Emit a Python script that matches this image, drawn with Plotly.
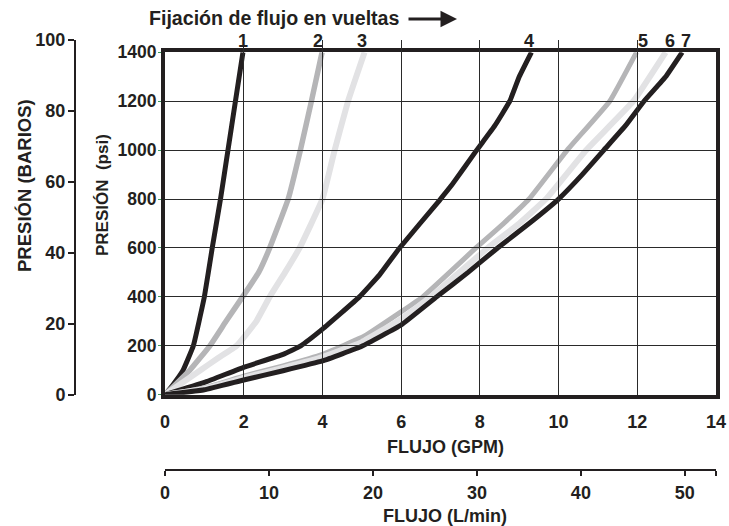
import plotly.graph_objects as go

# ---------------- data ----------------
turn_labels = ["1", "2", "3", "4", "5", "6", "7"]

c1_gpm = [0, 0.2, 0.46, 0.72, 1.0, 1.2, 1.41, 1.60, 1.79, 1.98]
c1_psi = [0, 40, 100, 200, 400, 600, 800, 1000, 1200, 1400]

c2_gpm = [0, 0.63, 1.14, 1.55, 1.97, 2.38, 2.66, 3.13, 3.44, 3.72, 3.99]
c2_psi = [0, 100, 200, 300, 400, 500, 600, 800, 1000, 1200, 1400]

c3_gpm = [0, 0.9, 1.35, 1.82, 2.32, 2.66, 3.05, 3.42, 4.0, 4.31, 4.65, 5.07]
c3_psi = [0, 100, 150, 200, 300, 400, 500, 600, 800, 1000, 1200, 1400]

c4_gpm = [0, 1.0, 2.0, 3.0, 3.45, 4.0, 4.94, 5.45, 5.96, 6.97, 7.28, 7.92, 8.38, 8.76, 9.0, 9.31]
c4_psi = [0, 50, 112, 165, 200, 268, 400, 490, 600, 794, 856, 1000, 1100, 1200, 1300, 1400]

c5_gpm = [0, 1, 2, 3, 4, 5.07, 6, 6.55, 7.9, 8.6, 9.25, 10.22, 11.3, 11.98]
c5_psi = [0, 28, 76, 118, 165, 240, 339, 400, 600, 700, 800, 1000, 1200, 1400]

c6_gpm = [0, 1, 2, 3, 4, 5, 6, 6.75, 8.2, 9.0, 9.68, 10.7, 11.9, 12.72]
c6_psi = [0, 24, 69, 110, 154, 215, 310, 400, 600, 700, 800, 1000, 1200, 1400]

c7_gpm = [0, 1, 2, 3, 4, 5.0, 6, 6.9, 7.7, 8.45, 9.25, 10.0, 10.6, 11.15, 11.7, 12.17, 12.72, 13.14]
c7_psi = [0, 20, 60, 98, 138, 198, 285, 400, 500, 600, 700, 800, 900, 1000, 1100, 1200, 1300, 1400]

gpm_ticks = [0, 2, 4, 6, 8, 10, 12, 14]
psi_ticks = [0, 200, 400, 600, 800, 1000, 1200, 1400]
bar_ticks = [0, 20, 40, 60, 80, 100]
lpm_ticks = [0, 10, 20, 30, 40, 50]

GPM_MAX = 14
PSI_MAX = 1400
BAR_MAX = 100
PSI_PER_BAR = 14.5038
LPM_PER_GPM = 3.78541

# ---------------- layout geometry ----------------
W, H = 729, 526
ML, MR, MT, MB = 40, 13, 40, 56
PW = W - ML - MR
PH = H - MT - MB


def px2x(px):
    return (px - ML) / PW


def py2y(py):
    return (H - MB - py) / PH


INK = "#231f20"
FONT = "Liberation Sans, Arial, sans-serif"

x_dom = [px2x(165), px2x(716)]
yb = py2y(394.7)
bar_dom = [yb, 1.0]
psi_top = yb + (1 - yb) * PSI_MAX / (BAR_MAX * PSI_PER_BAR)
psi_dom = [yb, psi_top]

curves = [
    (c1_gpm, c1_psi, INK, 5),
    (c2_gpm, c2_psi, "#b5b5b7", 5.5),
    (c3_gpm, c3_psi, "#e2e2e4", 6),
    (c4_gpm, c4_psi, INK, 5),
    (c5_gpm, c5_psi, "#b5b5b7", 5),
    (c6_gpm, c6_psi, "#e2e2e4", 6),
    (c7_gpm, c7_psi, INK, 5),
]

fig = go.Figure()
for gx, py, col, lw in curves:
    fig.add_trace(go.Scatter(
        x=gx, y=py, mode="lines",
        line=dict(color=col, width=lw, shape="spline", smoothing=0.3),
        hoverinfo="skip", showlegend=False,
    ))

# empty traces to activate the secondary (unit-conversion) axes
fig.add_trace(go.Scatter(x=[None], y=[None], yaxis="y2", showlegend=False, hoverinfo="skip"))
fig.add_trace(go.Scatter(x=[None], y=[None], xaxis="x2", showlegend=False, hoverinfo="skip"))

bold = dict(family=FONT, color=INK, weight="bold")

fig.update_layout(
    template="none",
    width=W, height=H,
    margin=dict(l=ML, r=MR, t=MT, b=MB),
    paper_bgcolor="white", plot_bgcolor="rgba(0,0,0,0)",
    font=dict(family=FONT, color=INK),
    xaxis=dict(
        domain=x_dom, range=[0, GPM_MAX], tickvals=gpm_ticks,
        showgrid=True, gridcolor="#2a2a2a", gridwidth=1,
        showline=True, mirror=True, linecolor=INK, linewidth=4,
        ticks="", ticklabelstandoff=8, zeroline=False, automargin=False,
        tickfont=dict(size=18, **bold), anchor="y",
    ),
    yaxis=dict(
        domain=psi_dom, range=[0, PSI_MAX], tickvals=psi_ticks,
        showgrid=True, gridcolor="#2a2a2a", gridwidth=1,
        showline=True, mirror=True, linecolor=INK, linewidth=4,
        ticks="outside", ticklen=3, tickcolor="#3c9a5c", tickwidth=1,
        ticklabelstandoff=-2, zeroline=False, automargin=False,
        tickfont=dict(size=17.5, **bold), anchor="x",
    ),
    yaxis2=dict(
        domain=bar_dom, range=[0, BAR_MAX], tickvals=bar_ticks,
        anchor="free", position=px2x(75), side="left",
        showgrid=False, zeroline=False, automargin=False,
        showline=True, linecolor=INK, linewidth=2,
        ticks="outside", ticklen=6, tickwidth=2, tickcolor=INK,
        ticklabelstandoff=-1,
        tickfont=dict(size=18, **bold),
    ),
    xaxis2=dict(
        domain=x_dom, range=[0, GPM_MAX * LPM_PER_GPM],
        tickvals=lpm_ticks + [GPM_MAX * LPM_PER_GPM],
        ticktext=[str(v) for v in lpm_ticks] + [""],
        anchor="free", position=0, side="bottom",
        showgrid=False, zeroline=False, automargin=False,
        showline=True, linecolor=INK, linewidth=2,
        ticks="outside", ticklen=5, tickwidth=2, tickcolor=INK,
        ticklabelstandoff=1,
        tickfont=dict(size=18, **bold),
    ),
)

ann = []
# axis titles
ann.append(dict(text="PRESIÓN (BARIOS)", xref="paper", yref="paper",
                x=px2x(24), y=py2y(186), textangle=-90, showarrow=False,
                xanchor="center", yanchor="middle", font=dict(size=18.5, **bold)))
ann.append(dict(text="PRESIÓN\u00a0\u00a0(psi)", xref="paper", yref="paper",
                x=px2x(102), y=py2y(195), textangle=-90, showarrow=False,
                xanchor="center", yanchor="middle", font=dict(size=17, **bold)))
ann.append(dict(text="FLUJO (GPM)", xref="paper", yref="paper",
                x=px2x(445), y=py2y(447), showarrow=False,
                xanchor="center", yanchor="middle", font=dict(size=18, **bold)))
ann.append(dict(text="FLUJO (L/min)", xref="paper", yref="paper",
                x=px2x(445), y=py2y(516), showarrow=False,
                xanchor="center", yanchor="middle", font=dict(size=18, **bold)))
# top title and arrow
ann.append(dict(text="Fijación de flujo en vueltas", xref="paper", yref="paper",
                x=px2x(147), y=py2y(18), showarrow=False,
                xanchor="left", yanchor="middle", font=dict(size=19.6, **bold)))
ann.append(dict(text="", xref="paper", yref="paper",
                x=px2x(457), y=py2y(19), ax=-50, ay=0, showarrow=True,
                arrowhead=2, arrowsize=1.1, arrowwidth=3, arrowcolor=INK))
# turn numbers at the top end of each curve
ends = [c1_gpm[-1], c2_gpm[-1], c3_gpm[-1], c4_gpm[-1], c5_gpm[-1], c6_gpm[-1], c7_gpm[-1]]
shifts = [0, -4, -3, -2, 6, 4, 4]
for lab, xe, sh in zip(turn_labels, ends, shifts):
    ann.append(dict(text=lab, xref="x", yref="paper", x=xe, y=py2y(41),
                    xshift=sh, showarrow=False, xanchor="center", yanchor="middle",
                    font=dict(size=18, **bold)))

fig.update_layout(annotations=ann)

fig.write_html(
    "out.html",
    config={"displayModeBar": False},
    post_script="document.body.style.margin='0';document.body.style.overflow='hidden';",
)
